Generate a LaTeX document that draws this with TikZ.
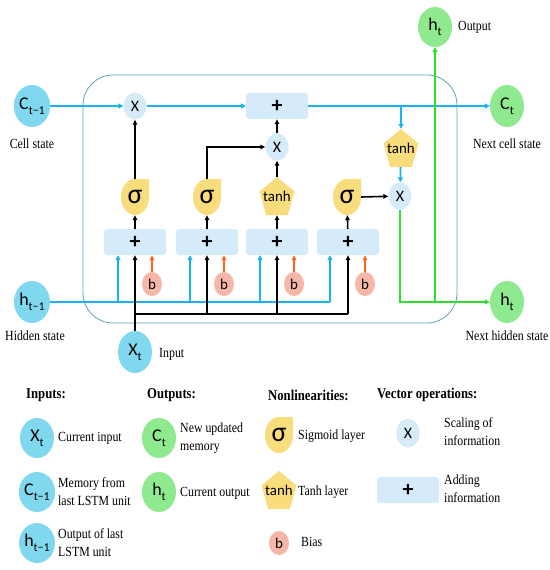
\documentclass[tikz,border=0pt]{standalone}
\usepackage{fontspec}
\usepackage{graphicx}
\setmainfont{Liberation Serif}
\newfontfamily\nf{Carlito}
\usetikzlibrary{shapes.geometric,arrows.meta,calc}
\definecolor{cyanfill}{HTML}{80D8EF}
\definecolor{greenfill}{HTML}{8FE98F}
\definecolor{sigfill}{HTML}{F9DC7C}
\definecolor{opfill}{HTML}{D5EBF9}
\definecolor{biasfill}{HTML}{F6B7A9}
\definecolor{blueline}{HTML}{1AB4EF}
\definecolor{greenline}{HTML}{2EE02E}
\definecolor{orangeline}{HTML}{FF5F1F}
\definecolor{boxline}{HTML}{5FA3BA}
\newcommand\subt[1]{\raisebox{-0.55ex}{\fontsize{12}{12}\selectfont #1}}
\newcommand\nar[1]{\scalebox{0.85}[1]{#1}}
\newcommand\twol[2]{\scalebox{0.85}[1]{\begin{tabular}{@{}l@{}}#1\\#2\end{tabular}}}
\newcommand\sigmaat[3]{%
  \fill[sigfill] ({#2},{#3-18}) -- ({#2+14},{#3-18}) -- ({#2+14},{#3})
    arc[start angle=0,end angle=270,x radius=14,y radius=18] -- cycle;
  \node[sigbox] (#1) at (#2,#3) {σ};}
\newcommand\tanhat[3]{%
  \fill[sigfill] ({#2},{#3-19}) -- ({#2+17.5},{#3-4.5}) -- ({#2+10.8},{#3+19})
    -- ({#2-10.8},{#3+19}) -- ({#2-17.5},{#3-4.5}) -- cycle;
  \node[thbox] (#1) at (#2,#3) {tanh};}
\begin{document}
\begin{tikzpicture}[x=1bp,y=-1bp,
  lbl/.style={font=\fontsize{14}{18}\selectfont, inner sep=0},
  lbll/.style={lbl, anchor=west, align=left},
  head/.style={font=\fontsize{15}{16}\selectfont\bfseries, anchor=west, inner sep=0},
  inc/.style={ellipse, fill=cyanfill, minimum width=34bp, minimum height=42bp, inner sep=0, font=\nf\fontsize{18}{18}\selectfont},
  outc/.style={inc, fill=greenfill},
  mul/.style={ellipse, fill=opfill, minimum width=23bp, minimum height=27bp, inner sep=0, font=\nf\fontsize{16}{16}\selectfont},
  add/.style={rectangle, rounded corners=3bp, fill=opfill, minimum width=62bp, minimum height=26bp, inner sep=0, font=\nf\bfseries\fontsize{22}{22}\selectfont},
  bias/.style={ellipse, fill=biasfill, minimum width=20bp, minimum height=24bp, inner sep=0, font=\nf\fontsize{15}{15}\selectfont},
  sigbox/.style={rectangle, minimum width=28bp, minimum height=36bp, inner sep=0, font=\nf\fontsize{28}{28}\selectfont},
  thbox/.style={rectangle, minimum width=35bp, minimum height=38bp, inner sep=0, font=\nf\fontsize{15}{15}\selectfont},
  bl/.style={draw=blueline, line width=1.8bp, -{Triangle[length=5bp,width=5bp]}},
  bln/.style={draw=blueline, line width=1.8bp},
  bk/.style={draw=black, line width=1.6bp, -{Triangle[length=5bp,width=4.5bp]}},
  bkn/.style={draw=black, line width=1.6bp},
  gr/.style={draw=greenline, line width=2bp, -{Triangle[length=5bp,width=5bp]}},
  og/.style={draw=orangeline, line width=1.6bp, -{Triangle[length=5bp,width=4.5bp]}},
]
\useasboundingbox (0,0) rectangle (550,570);
\fill[white] (0,0) rectangle (550,570);
% main cell
\draw[boxline, line width=0.8bp, rounded corners=30bp] (83,75) rectangle (457,323);

% outer nodes
\node[inc] (cprev) at (32,106) {C\subt{t−1}};
\node[lbl] (cprevl) at (32,144) {\nar{Cell state}};
\node[inc] (hprev) at (32,302) {h\subt{t−1}};
\node[lbl] (hprevl) at (35,336) {\nar{Hidden state}};
\node[inc] (xt) at (135,352) {X\subt{t}};
\node[lbl, anchor=west] (xtl) at (159,354) {\nar{Input}};
\node[outc] (ct) at (507,106) {C\subt{t}};
\node[lbl] (ctl) at (507,144) {\nar{Next cell state}};
\node[outc] (htn) at (507,302) {h\subt{t}};
\node[lbl] (htnl) at (507,336) {\nar{Next hidden state}};
\node[outc, minimum height=40bp] (hto) at (435,27) {h\subt{t}};
\node[lbl, anchor=west] (htol) at (458,27) {\nar{Output}};

% operations
\node[mul] (fx) at (135,106) {X};
\node[add] (pt) at (277,106) {+};
\node[mul] (mx) at (277,147) {X};
\tanhat{th2}{401}{148}
\node[mul] (ox) at (400,196) {X};

\sigmaat{s1}{135}{197}
\sigmaat{s2}{207}{197}
\tanhat{th1}{277}{196}
\sigmaat{s4}{347}{197}

\node[add] (a1) at (135,242) {+};
\node[add] (a2) at (207,242) {+};
\node[add] (a3) at (277,242) {+};
\node[add] (a4) at (348,242) {+};

\node[bias] (b1) at (152,284) {b};
\node[bias] (b2) at (224,284) {b};
\node[bias] (b3) at (294,284) {b};
\node[bias] (b4) at (365,284) {b};

% cell state line
\draw[bl] (cprev) -- (fx);
\draw[bl] (fx) -- (pt);
\draw[bl] (pt) -- (ct);
\coordinate (br) at (401,106);
\draw[bl] (br) -- (th2);
\draw[bl] (th2) -- (ox);

% hidden state input
\coordinate (j1) at (118,302);
\coordinate (j2) at (190,302);
\coordinate (j3) at (260,302);
\coordinate (j4) at (330,302);
\draw[bln] (hprev) -- (j4);
\draw[bl] (j1) -- (j1 |- a1.south);
\draw[bl] (j2) -- (j2 |- a2.south);
\draw[bl] (j3) -- (j3 |- a3.south);
\draw[bl] (j4) -- (j4 |- a4.south);

% input x_t
\coordinate (k1) at (135,314);
\coordinate (k4) at (348,314);
\draw[bk] (xt) -- (a1);
\draw[bkn] (k1) -- (k4);
\draw[bk] (k1 -| a2) -- (a2.south);
\draw[bk] (k1 -| a3) -- (a3.south);
\draw[bk] (k4) -- (a4.south);

% bias
\draw[og] (b1) -- (b1 |- a1.south);
\draw[og] (b2) -- (b2 |- a2.south);
\draw[og] (b3) -- (b3 |- a3.south);
\draw[og] (b4) -- (b4 |- a4.south);

% gates
\draw[bk] (a1) -- (s1);
\draw[bk] (a2) -- (s2);
\draw[bk] (a3) -- (th1);
\draw[bk] (a4) -- (s4);
\draw[bk] (s1) -- (fx);
\draw[bk] (s2.north) |- (mx);
\draw[bk] (th1) -- (mx);
\draw[bk] (mx) -- (pt);
\draw[bk] (s4.east) -- (ox);

% outputs
\draw[gr] (ox) |- (htn);
\coordinate (gj) at (435,302);
\draw[gr] (gj) -- (hto);

% legend
\node[head] (h1) at (26,395) {\nar{Inputs:}};
\node[head] (h2) at (147,395) {\nar{Outputs:}};
\node[head] (h3) at (268,395) {\nar{Nonlinearities:}};
\node[head] (h4) at (377,395) {\nar{Vector operations:}};

\node[inc, minimum height=40bp] (lx) at (37,438) {X\subt{t}};
\node[lbll] (lxl) at (58,438) {\nar{Current input}};
\node[inc, minimum height=40bp] (lc) at (37,492) {C\subt{t−1}};
\node[lbll] (lcl) at (58,493) {\twol{Memory from}{last LSTM unit}};
\node[inc, minimum height=40bp] (lh) at (37,543) {h\subt{t−1}};
\node[lbll] (lhl) at (58,544) {\twol{Output of last}{LSTM unit}};

\node[outc, minimum height=40bp] (lct) at (159,438) {C\subt{t}};
\node[lbll] (lctl) at (180,438) {\twol{New updated}{memory}};
\node[outc, minimum height=40bp] (lht) at (159,492) {h\subt{t}};
\node[lbll] (lhtl) at (180,493) {\nar{Current output}};

\sigmaat{ls}{279}{435}
\node[lbll] (lsl) at (298,436) {\nar{Sigmoid layer}};
\tanhat{lt}{279}{490}
\node[lbll] (ltl) at (298,492) {\nar{Tanh layer}};
\node[bias] (lb) at (279,543) {b};
\node[lbll] (lbl) at (301,542) {\nar{Bias}};

\node[mul, minimum height=29bp] (lm) at (408,433) {X};
\node[lbll] (lml) at (444,433) {\twol{Scaling of}{information}};
\node[add] (la) at (408,490) {+};
\node[lbll] (lal) at (444,490) {\twol{Adding}{information}};
\end{tikzpicture}
\end{document}
